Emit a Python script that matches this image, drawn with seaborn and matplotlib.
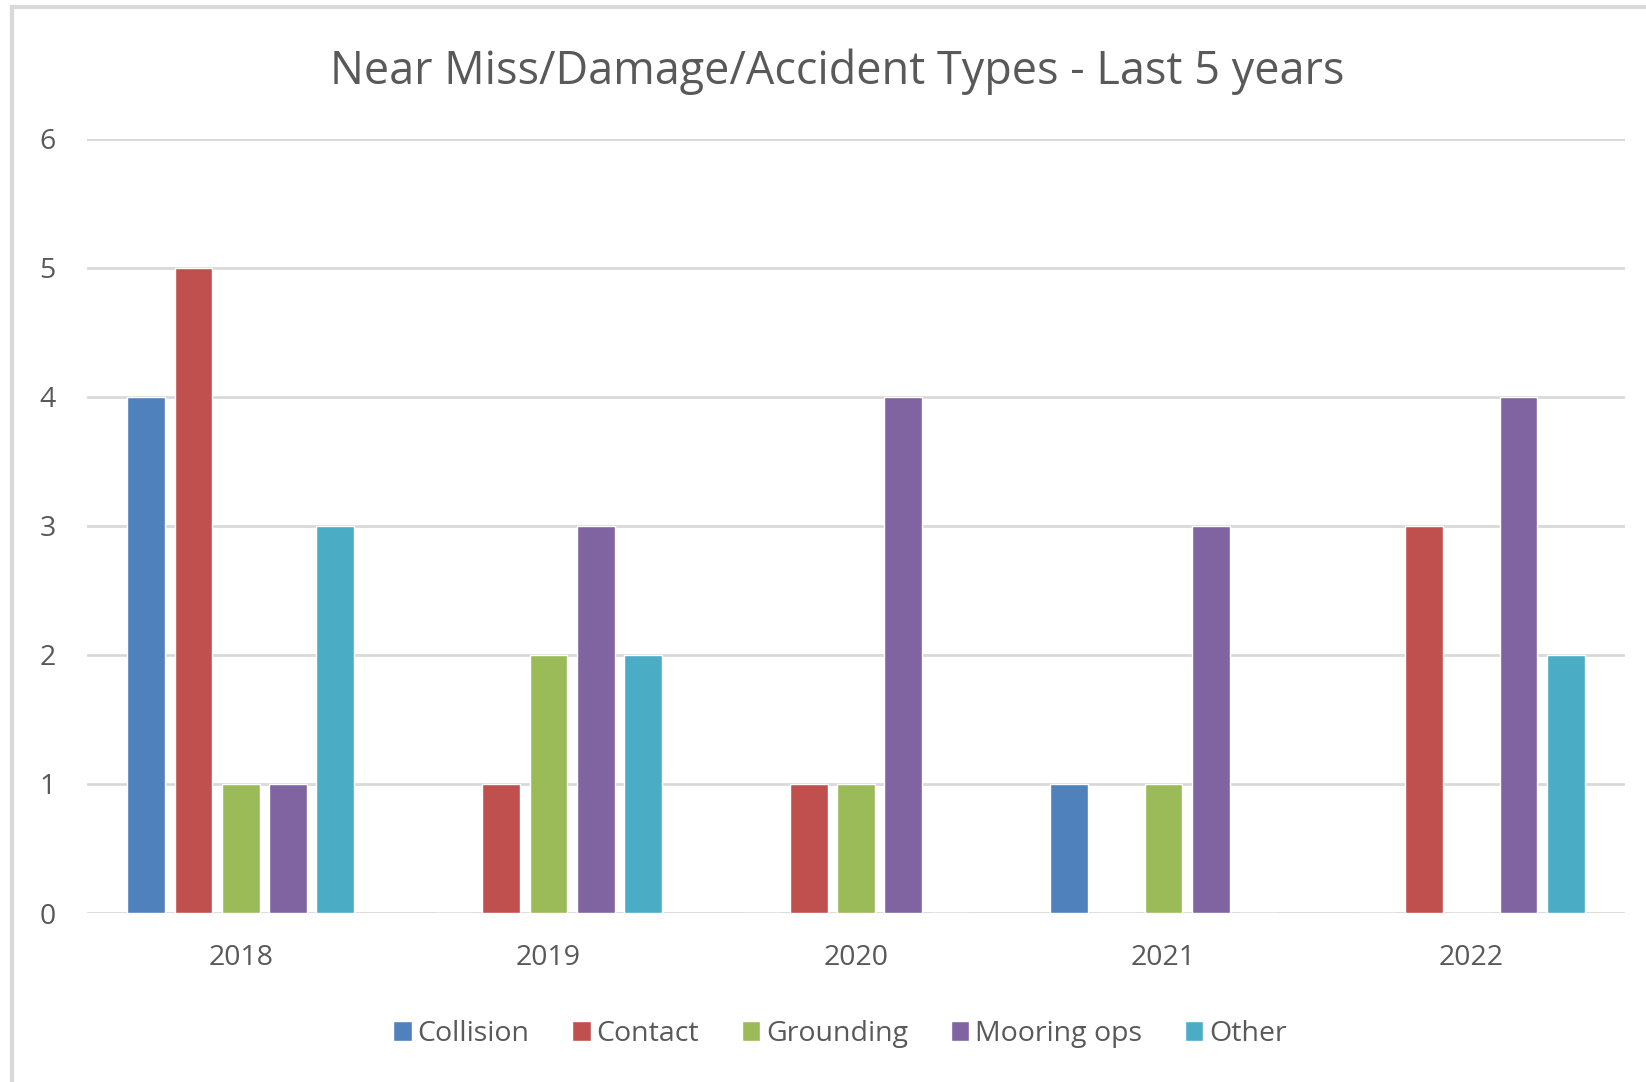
import matplotlib
matplotlib.use("Agg")
import matplotlib.pyplot as plt
import seaborn as sns
import pandas as pd
from matplotlib.patches import Rectangle

years = ["2018", "2019", "2020", "2021", "2022"]
types = ["Collision", "Contact", "Grounding", "Mooring ops", "Other"]
collision = [4, 0, 0, 1, 0]
contact = [5, 1, 1, 0, 3]
grounding = [1, 2, 1, 1, 0]
mooring = [1, 3, 4, 3, 4]
other = [3, 2, 0, 0, 2]
colors = ["#4F81BD", "#C0504D", "#9BBB59", "#8064A2", "#4BACC6"]
yticks = [0, 1, 2, 3, 4, 5, 6]

series = [collision, contact, grounding, mooring, other]
rows = []
for t, vals in zip(types, series):
    for y, v in zip(years, vals):
        rows.append({"Year": y, "Type": t, "Count": v})
df = pd.DataFrame(rows)

sns.set_style("white")
plt.rcParams["font.family"] = ["Open Sans", "DejaVu Sans"]

W, H = 1646, 1082
fig = plt.figure(figsize=(W / 100, H / 100), dpi=100)
ax = fig.add_axes([87 / W, (H - 913) / H, (1625 - 87) / W, (913 - 138.6) / H])

sns.barplot(data=df, x="Year", y="Count", hue="Type", order=years,
            hue_order=types, palette=colors, width=0.768, gap=0.2,
            saturation=1, errorbar=None, ax=ax, legend=True)

ax.set_ylim(0, 6)
ax.set_xlim(-0.5, 4.5)
ax.set_yticks(yticks)
ax.set_yticklabels([str(v) for v in yticks])
ax.yaxis.grid(True, color="#D9D9D9", linewidth=2)
ax.set_axisbelow(True)
for s in ax.spines.values():
    s.set_visible(False)
ax.tick_params(axis="both", length=0, colors="#595959", labelsize=20.5)
ax.tick_params(axis="y", pad=22.5)
ax.tick_params(axis="x", pad=22.5)
ax.set_xlabel("")
ax.set_ylabel("")

ax.set_title("Near Miss/Damage/Accident Types - Last 5 years", fontsize=32.4,
             color="#595959", pad=39, x=0.488)

leg = ax.get_legend()
handles = leg.legend_handles
leg.remove()
fig.legend(handles, types, loc="center", bbox_to_anchor=(840 / W, (H - 1034) / H),
           ncol=5, frameon=False, fontsize=20.5, labelcolor="#595959",
           handlelength=0.65, handleheight=0.65, handletextpad=0.2,
           columnspacing=1.5)

fig.patches.append(Rectangle((12 / W, -0.1), 1.2, (H - 7) / H + 0.1,
                             transform=fig.transFigure, fill=False,
                             edgecolor="#D9D9D9", linewidth=3))

fig.savefig("out.png", dpi=100)
